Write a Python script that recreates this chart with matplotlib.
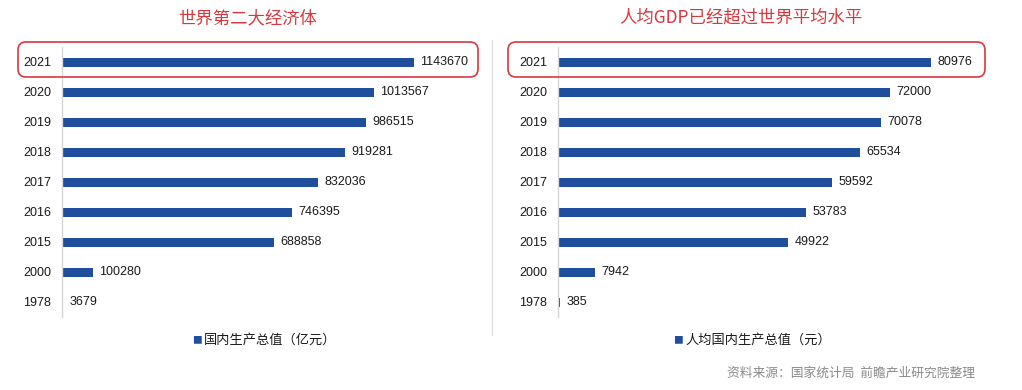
import matplotlib
matplotlib.use("Agg")
import matplotlib.pyplot as plt
from matplotlib.patches import FancyBboxPatch
from matplotlib.lines import Line2D

plt.rcParams['font.family'] = ['Noto Sans CJK SC', 'DejaVu Sans']

years = ["2021", "2020", "2019", "2018", "2017", "2016", "2015", "2000", "1978"]
gdp = [1143670, 1013567, 986515, 919281, 832036, 746395, 688858, 100280, 3679]
gdp_per_capita = [80976, 72000, 70078, 65534, 59592, 53783, 49922, 7942, 385]

title_left = "世界第二大经济体"
title_right = "人均GDP已经超过世界平均水平"
legend_left = "国内生产总值（亿元）"
legend_right = "人均国内生产总值（元）"
source = "资料来源：国家统计局  前瞻产业研究院整理"

BAR = "#1f4e9c"
RED = "#d6393d"
TXT = "#1a1a1a"
NUM_FONT = ["Liberation Sans", "DejaVu Sans"]
W, H = 1022, 390
fig = plt.figure(figsize=(W / 100, H / 100), dpi=100)


def px_axes(x0, y_top, w, h):
    return fig.add_axes([x0 / W, 1 - (y_top + h) / H, w / W, h / H])


def panel(x0, values, full_px, title, title_x, legend, legend_x):
    ax = px_axes(x0, 47, 400, 270)
    pos = list(range(len(years)))
    xmax = values[0] * 400 / full_px
    ax.barh(pos, values, height=0.3, color=BAR)
    ax.set_xlim(0, xmax)
    ax.set_ylim(len(years) - 0.5, -0.5)
    ax.set_yticks(pos)
    ax.set_yticklabels(years, fontsize=9, color=TXT, family=NUM_FONT)
    ax.tick_params(axis="y", length=0, pad=8)
    ax.set_xticks([])
    for s in ["top", "right", "bottom"]:
        ax.spines[s].set_visible(False)
    ax.spines["left"].set_color("#d6d6d6")
    ax.spines["left"].set_linewidth(1.0)
    for p, v in zip(pos, values):
        ax.text(v + xmax * 0.016, p, f"{v}", va="center", ha="left",
                fontsize=9, color=TXT, family=NUM_FONT)
    fig.text(title_x / W, 1 - 18 / H, title, ha="center", va="center",
             fontsize=12.5, color=RED, fontweight="medium")
    # legend entry: blue square marker followed by the series name
    lx = legend_x / W
    t = fig.text(lx, 1 - 340 / H, legend, ha="left", va="center",
                 fontsize=9.5, color=TXT)
    fig.text(lx - 2 / W, 1 - 340 / H, "■", ha="right", va="center",
             fontsize=7, color=BAR)
    return ax


panel(62, gdp, 352, title_left, 248, legend_left, 204)
panel(558, gdp_per_capita, 373, title_right, 741, legend_right, 685)

# highlight boxes around the 2021 rows
for x0, x1 in [(18, 478), (508, 985)]:
    box = FancyBboxPatch((x0 / 100, (H - 77) / 100), (x1 - x0) / 100, 35 / 100,
                         boxstyle="round,pad=0,rounding_size=0.08",
                         transform=fig.dpi_scale_trans, fill=False,
                         edgecolor=RED, linewidth=1.2)
    fig.patches.append(box)

# divider between the two panels
fig.lines.append(Line2D([492 / W, 492 / W], [1 - 40 / H, 1 - 335 / H],
                        transform=fig.transFigure, color="#e0e0e0", lw=1))

fig.text(975 / W, 1 - 373 / H, source, ha="right", va="center",
         fontsize=9.2, color="#8a8a8a")

fig.savefig("out.png", dpi=100)
